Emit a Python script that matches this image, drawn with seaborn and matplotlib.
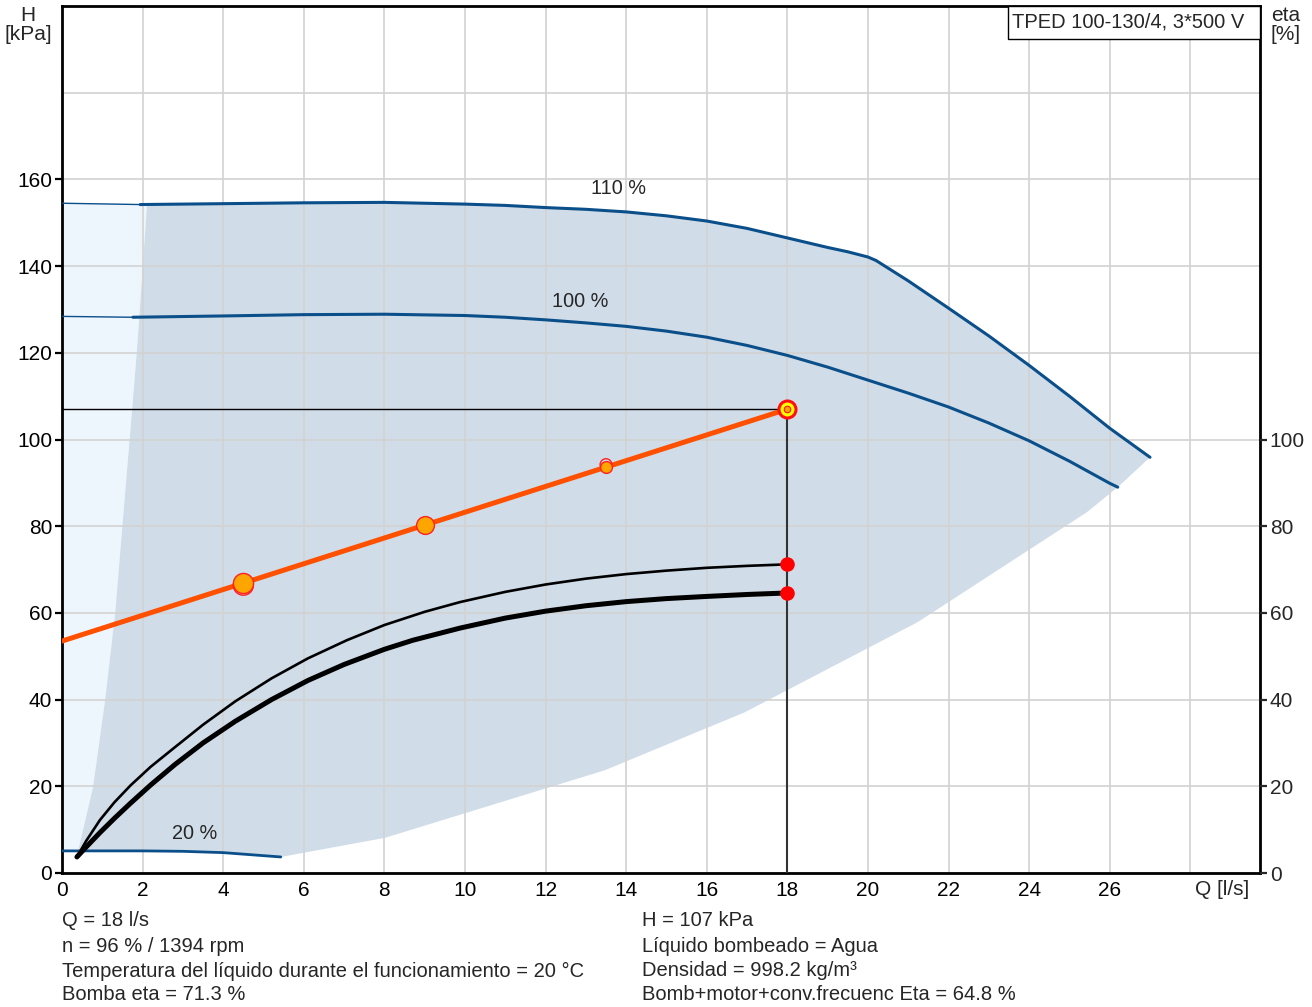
import matplotlib
matplotlib.use("Agg")
import matplotlib.pyplot as plt
import seaborn as sns
from matplotlib.patches import Rectangle

# ---------------- data ----------------
# 110 % curve (thin start segment, then thick)
q110_thin = [0.0, 1.94]
h110_thin = [154.5, 154.2]
q110 = [1.94, 4, 6, 8, 10, 11, 12, 13, 14, 15, 16, 17, 18, 19, 19.5, 20, 20.2,
        21, 22, 23, 24, 25, 26, 27.0]
h110 = [154.2, 154.4, 154.6, 154.7, 154.3, 154.0, 153.5, 153.1, 152.5, 151.6, 150.4, 148.7,
        146.5, 144.3, 143.3, 142.1, 141.3, 136.6, 130.3, 123.9, 117.1, 110.0, 102.6, 95.9]

# 100 % curve
q100_thin = [0.0, 1.76]
h100_thin = [128.4, 128.2]
q100 = [1.76, 4, 6, 8, 10, 11, 12, 13, 14, 15, 16, 17, 18, 19, 20, 21, 22, 23, 24, 25, 26, 26.2]
h100 = [128.2, 128.5, 128.8, 128.9, 128.6, 128.2, 127.6, 126.9, 126.1, 125.0, 123.6, 121.7,
        119.4, 116.7, 113.7, 110.7, 107.5, 103.8, 99.7, 95.0, 89.9, 89.0]

# 20 % curve
q20 = [0.0, 0.4, 2, 3, 4, 5, 5.43]
h20 = [5.1, 5.1, 5.1, 5.0, 4.7, 4.0, 3.7]

# left boundary of the operating range (bottom -> top)
q_left = [0.40, 0.77, 1.07, 1.32, 1.51, 1.74, 1.86, 2.11]
h_left = [5.1, 19.8, 39.9, 60.0, 81.4, 107.0, 120.6, 154.2]

# lower-right boundary of the operating range (right -> left)
q_low = [27.0, 26.2, 25.43, 21.24, 16.95, 13.47, 8.01, 5.43]
h_low = [95.9, 89.0, 83.2, 57.9, 37.1, 23.7, 8.1, 3.7]

# system curve
q_sys = [0.0, 18.0]
h_sys = [53.5, 107.0]
q_sys_pts = [4.5, 9.0, 13.5]
h_sys_pts = [66.9, 80.2, 93.6]

# efficiency curves (eta %)
q_eta_pump = [0.37, 0.6, 0.94, 1.3, 1.7, 2.2, 2.8, 3.5, 4.3, 5.2, 6.1, 7.07, 8, 9, 9.88,
              11, 12, 13, 14, 15, 16, 17, 18]
eta_pump = [3.7, 7.4, 12.2, 16.3, 20.2, 24.5, 29.0, 34.2, 39.6, 44.9, 49.5, 53.7, 57.2, 60.25,
            62.5, 64.85, 66.55, 67.9, 68.95, 69.75, 70.4, 70.85, 71.2]
q_eta_total = [0.37, 0.6, 0.94, 1.3, 1.7, 2.2, 2.8, 3.5, 4.3, 5.2, 6.1, 7.0, 8.0, 8.71, 9.88,
               11, 12, 13, 14, 15, 16, 17, 18]
eta_total = [3.7, 6.0, 9.3, 12.6, 16.1, 20.3, 25.0, 30.0, 35.0, 40.0, 44.4, 48.1, 51.6, 53.7,
             56.5, 58.8, 60.4, 61.65, 62.6, 63.3, 63.8, 64.25, 64.6]

# duty point
q_duty = 18.0
h_duty = 107.0
eta_duty = [71.2, 64.6]

x_ticks = [0, 2, 4, 6, 8, 10, 12, 14, 16, 18, 20, 22, 24, 26, 28]
x_labels = ["0", "2", "4", "6", "8", "10", "12", "14", "16", "18", "20", "22", "24", "26", ""]
h_ticks = [0, 20, 40, 60, 80, 100, 120, 140, 160]
eta_ticks = [0, 20, 40, 60, 80, 100]

info_left = ["Q = 18 l/s", "n = 96 % / 1394 rpm",
             "Temperatura del líquido durante el funcionamiento = 20 °C", "Bomba eta = 71.3 %"]
info_right = ["H = 107 kPa", "Líquido bombeado = Agua", "Densidad = 998.2 kg/m³",
              "Bomb+motor+conv.frecuenc Eta = 64.8 %"]
title = "TPED 100-130/4, 3*500 V"

# ---------------- style ----------------
sns.set_style("white")
plt.rcParams['font.family'] = ['Liberation Sans', 'DejaVu Sans']

W, H = 1312, 1007
fig = plt.figure(figsize=(W / 100, H / 100), dpi=100)
x0, x1, y0, y1 = 62, 1260, 6, 873
ax = fig.add_axes([x0 / W, 1 - y1 / H, (x1 - x0) / W, (y1 - y0) / H])
ax.set_xlim(0, 29.73)
ax.set_ylim(0, 200)

blue = "#0b4f8a"
dark_fill = "#d0dce8"
light_fill = "#eef6fd"
orange = "#ff5000"

# fills
light_q = [0.0] + q_left + [q110_thin[0]]
light_h = [h_left[0]] + h_left + [h110_thin[0]]
ax.fill(light_q, light_h, color=light_fill, lw=0, zorder=0.2)
dq = q_left + q110[1:] + q_low[1:] + q20[::-1][1:-1]
dh = h_left + h110[1:] + h_low[1:] + h20[::-1][1:-1]
ax.fill(dq, dh, color=dark_fill, lw=0, zorder=0.3)

# grid
ax.set_axisbelow(True)
ax.set_xticks(x_ticks)
ax.set_xticklabels(x_labels)
ax.set_yticks(h_ticks)
ax.set_yticks([180, 200], minor=True)
ax.grid(True, which="both", color="#d2d2d2", lw=1.2)
ax.tick_params(which="minor", length=0)

# pump curves
for q, h, lw in [(q110_thin, h110_thin, 1.0), (q110, h110, 2.2), (q100_thin, h100_thin, 1.0),
                 (q100, h100, 2.2), (q20, h20, 2.0)]:
    sns.lineplot(x=q, y=h, ax=ax, color=blue, lw=lw, sort=False, estimator=None, zorder=3)

# efficiency curves
sns.lineplot(x=q_eta_pump, y=eta_pump, ax=ax, color="black", lw=1.9, sort=False,
             estimator=None, zorder=4)
sns.lineplot(x=q_eta_total, y=eta_total, ax=ax, color="black", lw=3.6, sort=False,
             estimator=None, zorder=4)

# duty lines
ax.plot([0, q_duty], [h_duty, h_duty], color="black", lw=1.0, zorder=4)
ax.plot([q_duty, q_duty], [0, h_duty], color="#333333", lw=1.5, zorder=4)

# system curve
sns.lineplot(x=q_sys, y=h_sys, ax=ax, color=orange, lw=3.6, sort=False, estimator=None, zorder=5)
sizes = [210, 165, 72]
offsets = [-0.5, 0.0, 0.6]
for q, h, s, o in zip(q_sys_pts, h_sys_pts, sizes, offsets):
    if o != 0:
        ax.scatter([q], [h + o], s=s, facecolor="none", edgecolor="#ff2020", lw=1.0, zorder=6)
    ax.scatter([q], [h], s=s, facecolor="#ffa500", edgecolor="#ff2020", lw=1.0, zorder=7)
ax.scatter([q_duty], [h_duty], s=150, facecolor="#ffff00", edgecolor="#ff1010", lw=2.2, zorder=7)
ax.scatter([q_duty], [h_duty], s=22, facecolor="#ffa500", edgecolor="#ff1010", lw=0.8, zorder=8)
sns.scatterplot(x=[q_duty, q_duty], y=eta_duty, ax=ax, color="#ff0000", s=110, linewidth=0, zorder=8)

# curve labels
ax.text(13.8, 157.9, "110 %", fontsize=14.3, ha="center", va="center", zorder=9)
ax.text(12.85, 131.9, "100 %", fontsize=14.3, ha="center", va="center", zorder=9)
ax.text(3.28, 9.0, "20 %", fontsize=14.3, ha="center", va="center", zorder=9)

# spines / ticks
for s in ax.spines.values():
    s.set_color("black")
    s.set_linewidth(2.0)
ax.tick_params(axis="both", which="major", direction="out", length=5, width=1.6,
               labelsize=15, colors="black", pad=2)
ax.tick_params(axis="x", which="major", length=5, pad=1)

ax.annotate("Q [l/s]", xy=(28.12, 0), xycoords="data", xytext=(0, -5), textcoords="offset points",
            ha="left", va="top", fontsize=15)

ax2 = ax.twinx()
ax2.set_ylim(0, 200)
ax2.set_yticks(eta_ticks)
ax2.tick_params(axis="y", direction="out", length=5, width=1.6, labelsize=15, pad=2)
for s in ax2.spines.values():
    s.set_visible(False)
ax2.grid(False)

# title box
bx0 = (1008 - x0) / (x1 - x0)
by0 = (y1 - 39) / (y1 - y0)
ax.add_patch(Rectangle((bx0, by0), 1 - bx0, 1 - by0, transform=ax.transAxes,
                       facecolor="white", edgecolor="black", lw=1.0, zorder=10, clip_on=False))
ax.text(bx0 + 4 / (x1 - x0), (y1 - 22) / (y1 - y0), title, transform=ax.transAxes,
        ha="left", va="center", fontsize=14.5, zorder=11)

# axis side labels
fig.text(28 / W, 1 - 25 / H, "H\n[kPa]", ha="center", va="center", fontsize=15, linespacing=1.0)
fig.text(1286 / W, 1 - 25 / H, "eta\n[%]", ha="center", va="center", fontsize=15, linespacing=1.0)

# info text
ys = [921, 946, 971, 995]
for y, t in zip(ys, info_left):
    fig.text(62 / W, 1 - y / H, t, ha="left", va="center", fontsize=14.5)
for y, t in zip(ys, info_right):
    fig.text(642 / W, 1 - y / H, t, ha="left", va="center", fontsize=14.5)

fig.savefig("out.png", dpi=100)
